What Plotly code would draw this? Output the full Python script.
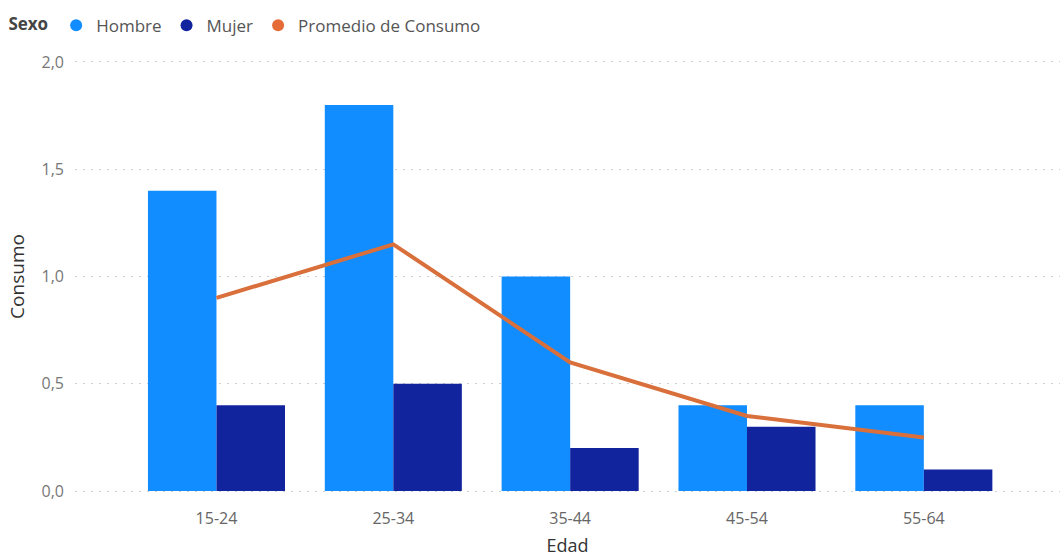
import plotly.graph_objects as go

categorias = ["15-24", "25-34", "35-44", "45-54", "55-64"]
hombre = [1.4, 1.8, 1.0, 0.4, 0.4]
mujer = [0.4, 0.5, 0.2, 0.3, 0.1]
promedio = [0.9, 1.15, 0.6, 0.35, 0.25]
y_ticks = [0.0, 0.5, 1.0, 1.5, 2.0]

C_H = "#118DFF"
C_M = "#12239E"
C_P = "#D9703C"
FONT = "Open Sans"

fig = go.Figure()
fig.add_trace(go.Bar(x=categorias, y=hombre, name="Hombre", marker=dict(color=C_H, line=dict(width=0)),
                     showlegend=False, legendgroup="h"))
fig.add_trace(go.Bar(x=categorias, y=mujer, name="Mujer", marker=dict(color=C_M, line=dict(width=0)),
                     showlegend=False, legendgroup="m"))
fig.add_trace(go.Scatter(x=categorias, y=promedio, name="Promedio de Consumo", mode="lines",
                         line=dict(color=C_P, width=4), showlegend=False, legendgroup="p"))
# legend entries with circular markers
for nm, col, grp in [("Hombre", C_H, "h"), ("Mujer", C_M, "m"), ("Promedio de Consumo", "#E66C37", "p")]:
    fig.add_trace(go.Scatter(x=[None], y=[None], mode="markers", name=nm, legendgroup=grp,
                             marker=dict(symbol="circle", size=14, color=col)))

pad = 3 / 216.0

fig.update_layout(
    width=1063, height=557,
    margin=dict(l=75, r=3, t=59, b=60),
    paper_bgcolor="white", plot_bgcolor="white",
    separators=",.",
    barmode="group", bargap=0.225, bargroupgap=0,
    font=dict(family=FONT, color="#666666", size=15),
    legend=dict(orientation="h", xref="container", yref="container", x=0.006, y=0.986,
                xanchor="left", yanchor="top",
                title=dict(text="<b>Sexo</b>", font=dict(size=17, color="#444444")),
                font=dict(size=17, color="#555555"), itemsizing="constant",
                tracegroupgap=0, bgcolor="rgba(0,0,0,0)"),
    xaxis=dict(type="category", range=[-0.8, 4.77], showgrid=False, showline=False,
               zeroline=False, tickfont=dict(size=16, color="#666666"), ticks="",
               ticklabelstandoff=13,
               title=dict(text="Edad", font=dict(size=18, color="#333333"), standoff=12)),
    yaxis=dict(range=[-pad, 2.0 + pad], tickvals=y_ticks, tickformat=".1f",
               showgrid=True, gridcolor="#cfcfcf", griddash="2px,6px", gridwidth=1,
               zeroline=False, showline=False, ticks="", ticklabelstandoff=10,
               tickfont=dict(size=16, color="#777777"),
               title=dict(text="Consumo", font=dict(size=19, color="#333333"), standoff=11)),
)

fig.write_html("out.html")
